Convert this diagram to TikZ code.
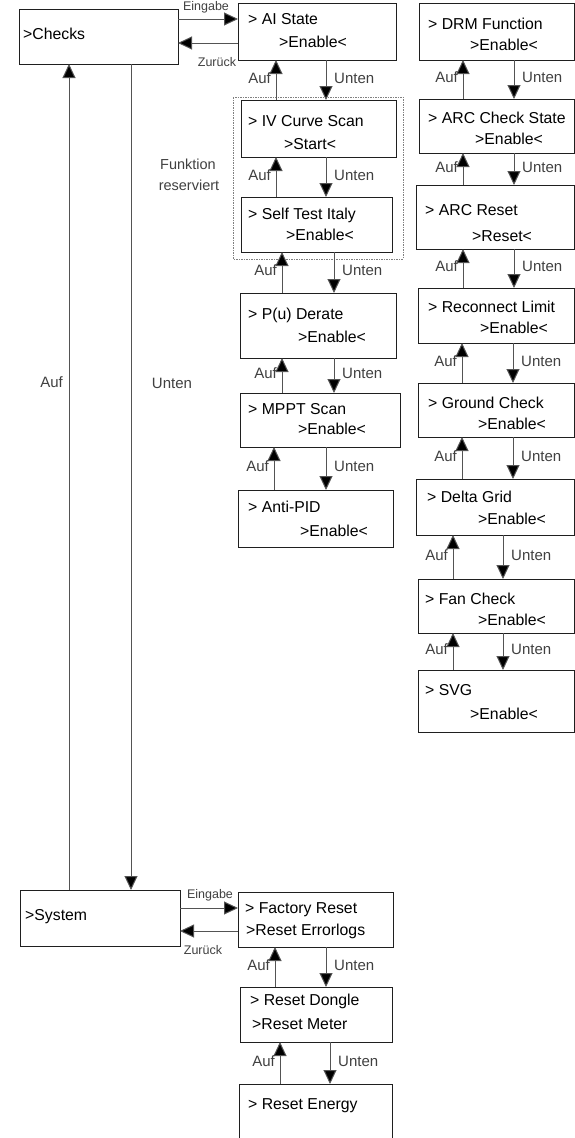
\documentclass[tikz,border=0pt]{standalone}
\usepackage{fontspec}
\setmainfont{Liberation Sans}
\usetikzlibrary{arrows.meta,calc}
\definecolor{linegray}{rgb}{0.33,0.33,0.33}
\definecolor{labgray}{rgb}{0.25,0.25,0.25}
\definecolor{boxline}{rgb}{0.12,0.12,0.12}
\tikzset{
  menubox/.style={draw=boxline, line width=1pt, inner sep=0pt, outer sep=0pt, anchor=north west},
  btxt/.style={font=\fontsize{15.8}{17}\selectfont, text=black, inner sep=0pt, anchor=mid west},
  lab/.style={font=\fontsize{15}{16}\selectfont, text=labgray, inner sep=0pt},
  slab/.style={font=\fontsize{12.5}{14}\selectfont, text=labgray, inner sep=0pt},
  arr/.style={draw=linegray, line width=1pt, -{Triangle[width=13pt,length=14pt,fill=black]}},
  resbox/.style={draw=gray, line width=0.8pt, dash pattern=on 2pt off 1.2pt on 0.6pt off 1.2pt}
}
\newcommand{\mybox}[5]{\node[menubox, minimum width=#4-#2, minimum height=#5-#3] (#1) at (#2,#3) {};}
% vertical pair: {upper}{lower}{auf x}{unten x}
\newcommand{\updown}[4]{%
  \draw[arr] (#3,0 |- #2.north) -- (#3,0 |- #1.south);
  \draw[arr] (#4,0 |- #1.south) -- (#4,0 |- #2.north);
  \path (#1.south) -- (#2.north) coordinate[pos=0.5] (m#1#2);
  \node[lab, anchor=east] (a#1#2) at ($(#3-5,0 |- m#1#2)+(0,-2)$) {Auf};
  \node[lab, anchor=west] (u#1#2) at ($(#4+8,0 |- m#1#2)+(0,-2)$) {Unten};
}
\begin{document}
\begin{tikzpicture}[x=1pt,y=-1pt]
\useasboundingbox (0,0) rectangle (575,1138);

% ---- reserved function frame
\draw[resbox] (233,97) rectangle (403,259);
\node[lab, font=\fontsize{14.5}{16}\selectfont] (fr1) at (188,164) {Funktion};
\node[lab, font=\fontsize{14.5}{16}\selectfont] (fr2) at (189,185) {reserviert};

% ---- boxes
\mybox{checks}{19}{9}{178}{64}
\mybox{system}{20}{890}{180}{946}

\mybox{ai}{238}{3}{396}{60}
\mybox{iv}{241}{100}{396}{157}
\mybox{st}{241}{197}{392}{252}
\mybox{pu}{240}{293}{396}{358}
\mybox{mp}{240}{393}{400}{447}
\mybox{ap}{238}{490}{393}{547}

\mybox{drm}{419}{3}{574}{60}
\mybox{arcc}{419}{99}{574}{153}
\mybox{arcr}{416}{185}{574}{249}
\mybox{rl}{418}{288}{574}{343}
\mybox{gc}{418}{383}{574}{437}
\mybox{dg}{416}{479}{574}{535}
\mybox{fc}{418}{579}{574}{633}
\mybox{svg}{418}{670}{574}{732}

\mybox{fr}{238}{892}{393}{947}
\mybox{rd}{240}{987}{392}{1042}
\mybox{re}{239}{1084}{392}{1165}

% ---- box texts
\node[btxt] (tchecks) at (23,37) {>Checks};
\node[btxt] (tsystem) at (25,918) {>System};

\node[btxt] (tai1) at (248,22) {> AI State};
\node[btxt] (tai2) at (279,45) {>Enable<};
\node[btxt] (tiv1) at (248,124) {> IV Curve Scan};
\node[btxt] (tiv2) at (284,147) {>Start<};
\node[btxt] (tst1) at (248,217) {> Self Test Italy};
\node[btxt] (tst2) at (286,238) {>Enable<};
\node[btxt] (tpu1) at (248,317) {> P(u) Derate};
\node[btxt] (tpu2) at (298,340) {>Enable<};
\node[btxt] (tmp1) at (248,412) {> MPPT Scan};
\node[btxt] (tmp2) at (298,432) {>Enable<};
\node[btxt] (tap1) at (248,510) {> Anti-PID};
\node[btxt] (tap2) at (300,534) {>Enable<};

\node[btxt] (tdrm1) at (428,27) {> DRM Function};
\node[btxt] (tdrm2) at (470,48) {>Enable<};
\node[btxt] (tarcc1) at (428,121) {> ARC Check State};
\node[btxt] (tarcc2) at (475,142) {>Enable<};
\node[btxt] (tarcr1) at (425,213) {> ARC Reset};
\node[btxt] (tarcr2) at (472,239) {>Reset<};
\node[btxt] (trl1) at (428,310) {> Reconnect Limit};
\node[btxt] (trl2) at (480,331) {>Enable<};
\node[btxt] (tgc1) at (428,406) {> Ground Check};
\node[btxt] (tgc2) at (478,427) {>Enable<};
\node[btxt] (tdg1) at (427,500) {> Delta Grid};
\node[btxt] (tdg2) at (478,522) {>Enable<};
\node[btxt] (tfc1) at (425,602) {> Fan Check};
\node[btxt] (tfc2) at (478,623) {>Enable<};
\node[btxt] (tsvg1) at (425,693) {> SVG};
\node[btxt] (tsvg2) at (470,717) {>Enable<};

\node[btxt] (tfr1) at (245,911) {> Factory Reset};
\node[btxt] (tfr2) at (246,933) {>Reset Errorlogs};
\node[btxt] (trd1) at (250,1003) {> Reset Dongle};
\node[btxt] (trd2) at (252,1027) {>Reset Meter};
\node[btxt] (tre1) at (248,1107) {> Reset Energy};

% ---- horizontal connectors
\draw[arr] (checks.east |- 0,19) -- (ai.west |- 0,19);
\draw[arr] (ai.west |- 0,43) -- (checks.east |- 0,43);
\node[slab] (le1) at (206,7) {Eingabe};
\node[slab] (lz1) at (217,62) {Zurück};

\draw[arr] (system.east |- 0,908) -- (fr.west |- 0,908);
\draw[arr] (fr.west |- 0,931) -- (system.east |- 0,931);
\node[slab] (le2) at (210,895) {Eingabe};
\node[slab] (lz2) at (203,950) {Zurück};

% ---- long verticals
\draw[arr] (69,0 |- system.north) -- (69,0 |- checks.south);
\draw[arr] (131,0 |- checks.south) -- (131,0 |- system.north);
\node[lab, anchor=east] (la) at (63,382) {Auf};
\node[lab] (lu) at (172,383) {Unten};

% ---- vertical pairs
\updown{ai}{iv}{276}{326}
\updown{iv}{st}{276}{326}
\updown{st}{pu}{282}{334}
\updown{pu}{mp}{282}{334}
\updown{mp}{ap}{274}{326}

\updown{drm}{arcc}{463}{514}
\updown{arcc}{arcr}{463}{514}
\updown{arcr}{rl}{463}{514}
\updown{rl}{gc}{462}{513}
\updown{gc}{dg}{462}{513}
\updown{dg}{fc}{453}{503}
\updown{fc}{svg}{453}{503}

\updown{fr}{rd}{275}{326}
\updown{rd}{re}{280}{330}
\end{tikzpicture}
\end{document}
